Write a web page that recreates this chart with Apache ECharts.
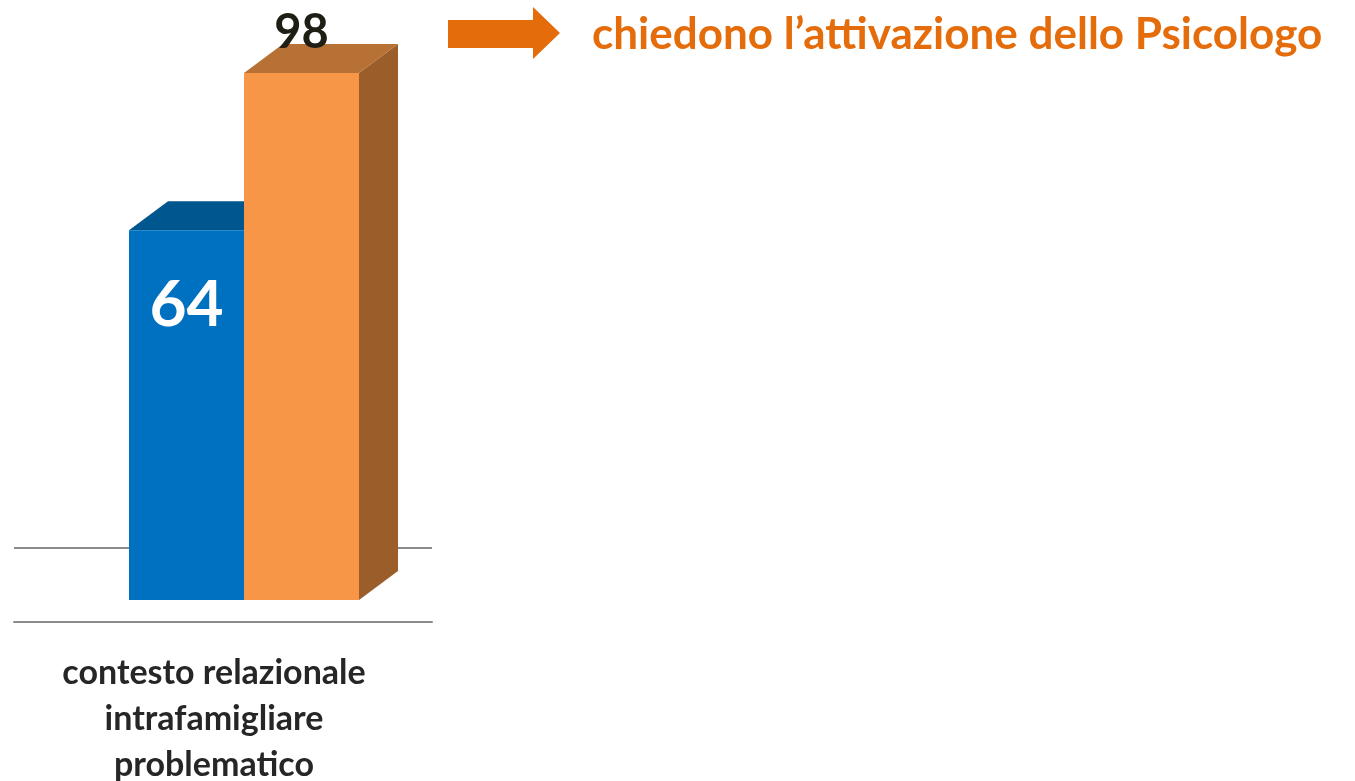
<!DOCTYPE html>
<html>
<head>
<meta charset="utf-8">
<script src="https://cdn.jsdelivr.net/npm/echarts@6/dist/echarts.min.js"></script>
<style>
html, body { margin: 0; padding: 0; background: #fff; }
#main { width: 1355px; height: 781px; }
</style>
</head>
<body>
<div id="main"></div>
<script>
var categories = ['contesto relazionale\nintrafamigliare\nproblematico'];
var seriesNames = ['segnalazioni', 'attivazione Psicologo'];
var blueValues = [64];
var orangeValues = [98];
var titleText = 'chiedono l\u2019attivazione dello Psicologo';

var yMin = -16;
var frontW = 115, depthX = 39, depthY = -29;
var faceColors = [
	{ front: '#0070c0', top: '#00568f', side: '#004f84', label: '#ffffff' },
	{ front: '#f79646', top: '#b87135', side: '#9b5e2b', label: '#1e1e14' }
];

function renderBar(params, api) {
	var x = api.value(0), v = api.value(1);
	var top = api.coord([x, v]);
	var base = api.coord([x, yMin]);
	var c = faceColors[params.seriesIndex];
	var l = top[0] - 94 + params.seriesIndex * frontW;
	var r = l + frontW, ty = top[1], by = base[1];
	var children = [
		{ type: 'polygon', shape: { points: [[r, ty], [r + depthX, ty + depthY], [r + depthX, by + depthY], [r, by]] }, style: { fill: c.side } },
		{ type: 'polygon', shape: { points: [[l, ty], [l + depthX, ty + depthY], [r + depthX, ty + depthY], [r, ty]] }, style: { fill: c.top } },
		{ type: 'rect', shape: { x: l, y: ty, width: frontW, height: by - ty }, style: { fill: c.front } }
	];
	if (params.seriesIndex === 0) {
		children.push({ type: 'text', style: { text: String(v), x: l + frontW / 2, y: ty + 75, align: 'center', verticalAlign: 'middle', fill: c.label, font: 'bold 64px Lato' } });
	} else {
		children.push({ type: 'text', style: { text: String(v), x: l + frontW / 2, y: ty - 40, align: 'center', verticalAlign: 'middle', fill: c.label, font: 'bold 47px Lato' } });
	}
	return { type: 'group', children: children };
}

var myChart = echarts.init(document.getElementById('main'));
var option = {
	backgroundColor: '#ffffff',
	animation: false,
	title: {
		text: titleText,
		left: 587,
		top: 8,
		textStyle: { color: '#e46c0a', fontFamily: 'Lato', fontWeight: 'bold', fontSize: 44 }
	},
	grid: { left: 14, right: 923, top: 73, bottom: 181, containLabel: false, outerBoundsMode: 'none' },
	xAxis: {
		type: 'category',
		data: categories,
		offset: 22,
		axisLine: { onZero: false, lineStyle: { color: '#8c8c8c', width: 2 } },
		axisTick: { show: false },
		axisLabel: {
			color: '#262626', fontFamily: 'Lato', fontWeight: 'bold', fontSize: 34,
			lineHeight: 46, margin: 28, padding: [0, 18, 0, 0]
		}
	},
	yAxis: { type: 'value', min: yMin, max: 98, show: false },
	graphic: [
		{ type: 'line', shape: { x1: 14, y1: 548, x2: 432, y2: 548 }, style: { stroke: '#8c8c8c', lineWidth: 2 }, z: 0 },
		{ type: 'polygon', shape: { points: [[448, 20], [533, 20], [533, 7], [560, 33], [533, 59], [533, 48], [448, 48]] }, style: { fill: '#e46c0a' } }
	],
	series: [
		{ name: seriesNames[0], type: 'custom', renderItem: renderBar, data: blueValues.map(function (v, i) { return [i, v]; }), z: 3 },
		{ name: seriesNames[1], type: 'custom', renderItem: renderBar, data: orangeValues.map(function (v, i) { return [i, v]; }), z: 4 }
	]
};
myChart.setOption(option);
</script>
</body>
</html>
